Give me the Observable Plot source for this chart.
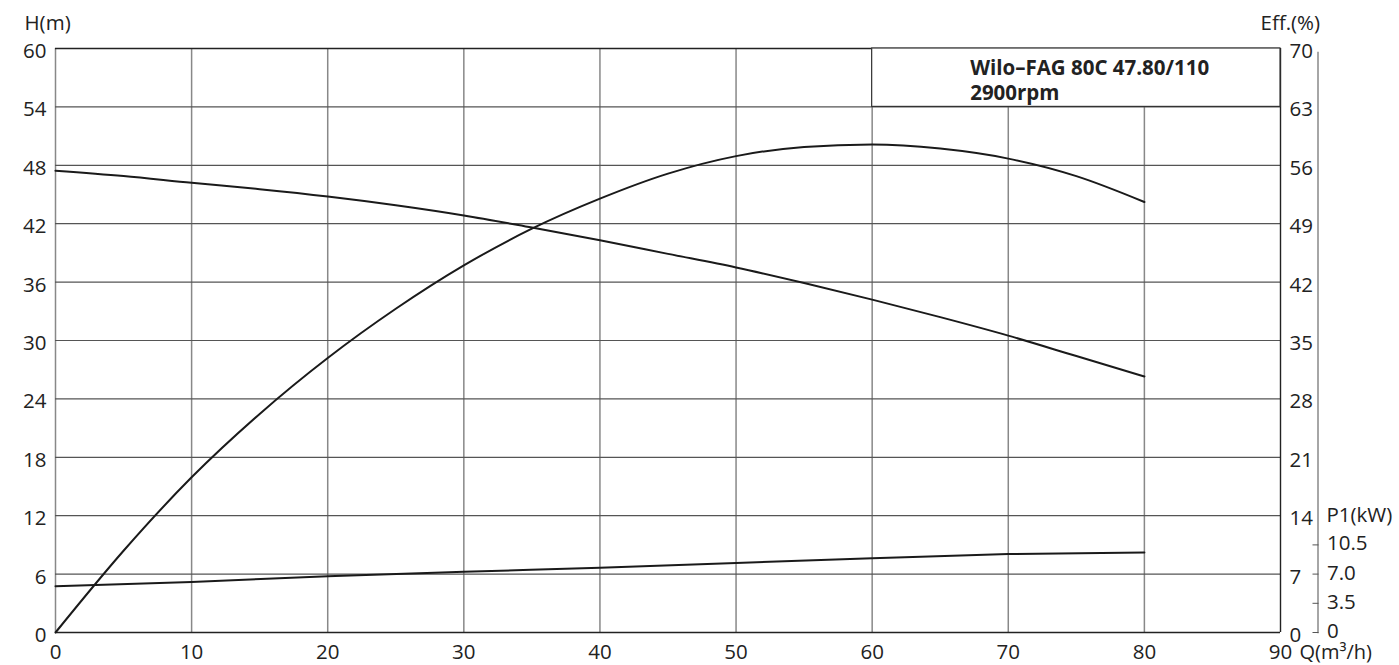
<!DOCTYPE html>
<html>
<head>
<meta charset="utf-8">
<script src="https://cdn.jsdelivr.net/npm/d3@7"></script>
<script src="https://cdn.jsdelivr.net/npm/@observablehq/plot@0.6"></script>
<style>
  html, body { margin: 0; padding: 0; background: #fff; }
  svg { display: block; }
</style>
</head>
<body>
<div id="chart"></div>
<script>
// ---- data ----
const headQ = [0, 5, 10, 15, 20, 25, 30, 35, 40, 45, 50, 55, 60, 65, 70, 75, 80];
const headH = [47.45, 46.9, 46.2, 45.55, 44.8, 43.9, 42.85, 41.6, 40.3, 38.9, 37.5, 35.9, 34.2, 32.4, 30.5, 28.4, 26.3];

const effQ = [0, 5, 10, 15, 20, 25, 30, 35, 40, 45, 50, 55, 60, 65, 70, 75, 80];
const effPct = [0, 9.8, 18.6, 26.2, 32.9, 38.8, 44.0, 48.4, 52.0, 55.0, 57.1, 58.2, 58.5, 58.0, 56.8, 54.7, 51.6];

const powerQ = [0, 10, 20, 30, 40, 50, 60, 70, 80];
const powerKW = [5.54, 6.05, 6.75, 7.28, 7.77, 8.33, 8.9, 9.4, 9.6];

// ---- axes / ticks ----
const qTicks = [0, 10, 20, 30, 40, 50, 60, 70, 80, 90];
const hTicks = [0, 6, 12, 18, 24, 30, 36, 42, 48, 54, 60];
const effTicks = [0, 7, 14, 21, 28, 35, 42, 49, 56, 63, 70];
const p1Ticks = [0, 3.5, 7.0, 10.5];
const H_MAX = 60, EFF_MAX = 70;           // right-hand scales share 0..70 over the H range 0..60
const titleLines = ["Wilo\u2013FAG 80C 47.80/110", "2900rpm"];
const titleBox = [{q1: 60, q2: 90, h1: 54, h2: 60}];
const P1_LABEL_AT = 14; // eff-scale level of the "P1(kW)" label

const toH = v => v * H_MAX / EFF_MAX;
const fromH = v => v * EFF_MAX / H_MAX;

const headData = headQ.map((q, i) => ({q, v: headH[i]}));
const effData = effQ.map((q, i) => ({q, v: effPct[i]}));
const powerData = powerQ.map((q, i) => ({q, v: powerKW[i]}));

const FS = 20.5;
const INK = "#222";
const FONT = "'Open Sans', sans-serif";

const chart = Plot.plot({
  width: 1399,
  height: 665,
  marginLeft: 55,
  marginRight: 119,
  marginTop: 48,
  marginBottom: 33,
  style: {fontFamily: FONT, fontSize: FS + "px", color: INK, background: "#fff", overflow: "visible"},
  x: {domain: [0, 90]},
  y: {domain: [0, 60]},
  marks: [
    // grid
    Plot.ruleX(qTicks.slice(0, -1), {stroke: "#888", strokeWidth: 1.5}),
    Plot.ruleY(hTicks, {stroke: "#555", strokeWidth: 1.2}),
    // frame edges (dark)
    Plot.ruleY([hTicks[0], hTicks[hTicks.length - 1]], {stroke: INK, strokeWidth: 1.4}),
    Plot.ruleX([qTicks[qTicks.length - 1]], {stroke: INK, strokeWidth: 1.4}),
    // title box
    Plot.rect(titleBox, {x1: "q1", x2: "q2", y1: "h1", y2: "h2", fill: "#fff", stroke: "#333", strokeWidth: 1.2}),
    Plot.text([titleLines.join("\n")], {
      x: () => titleBox[0].q1, frameAnchor: "top", dx: 98, dy: 8,
      textAnchor: "start", lineAnchor: "top", lineHeight: 1.25,
      fontWeight: "bold", fontSize: FS, fill: INK
    }),
    // curves
    Plot.line(headData, {x: "q", y: "v", stroke: "#1a1a1a", strokeWidth: 2, curve: "monotone-x"}),
    Plot.line(effData, {x: "q", y: d => toH(d.v), stroke: "#1a1a1a", strokeWidth: 2, curve: "monotone-x"}),
    Plot.line(powerData, {x: "q", y: d => toH(d.v), stroke: "#1a1a1a", strokeWidth: 2, curve: "monotone-x"}),
    // axes
    Plot.axisX(qTicks, {tickSize: 0, tickPadding: 12, fontSize: FS, label: null}),
    Plot.axisY(hTicks, {anchor: "left", tickSize: 0, tickPadding: 9, dy: 3, fontSize: FS, label: null}),
    Plot.axisY(effTicks.map(toH), {anchor: "right", tickSize: 0, tickPadding: 9, dy: 3, fontSize: FS, label: null,
      tickFormat: d => String(Math.round(fromH(d)))}),
    // P1 axis (offset to the right)
    Plot.frame({anchor: "right", dx: 37.5, insetTop: 4, stroke: "#888", strokeWidth: 1.5}),
    Plot.axisY(p1Ticks.map(toH), {anchor: "right", dx: 31.5, tickSize: 6, text: null, label: null, stroke: "#555"}),
    Plot.axisY(p1Ticks.map(toH), {anchor: "right", dx: 37.5, tickSize: 0, tickPadding: 9, dy: -1, fontSize: FS, label: null,
      tickFormat: d => { const k = fromH(d); return k === 0 ? "0" : k.toFixed(1); }}),
    // axis titles
    Plot.text(["H(m)"], {frameAnchor: "top-left", dx: -31, dy: -25, textAnchor: "start", lineAnchor: "middle", fontSize: FS, fill: INK}),
    Plot.text(["Eff.(%)"], {frameAnchor: "top-right", dx: -20, dy: -25, textAnchor: "start", lineAnchor: "middle", fontSize: FS, fill: INK}),
    Plot.text(["P1(kW)"], {frameAnchor: "right", y: () => toH(P1_LABEL_AT), dx: 46, textAnchor: "start", lineAnchor: "middle", fontSize: FS, fill: INK}),
    Plot.text(["Q(m\u00b3/h)"], {frameAnchor: "bottom-right", dx: 19, dy: 20, textAnchor: "start", lineAnchor: "middle", fontSize: 20, fill: INK})
  ]
});
document.getElementById("chart").appendChild(chart);
</script>
</body>
</html>
